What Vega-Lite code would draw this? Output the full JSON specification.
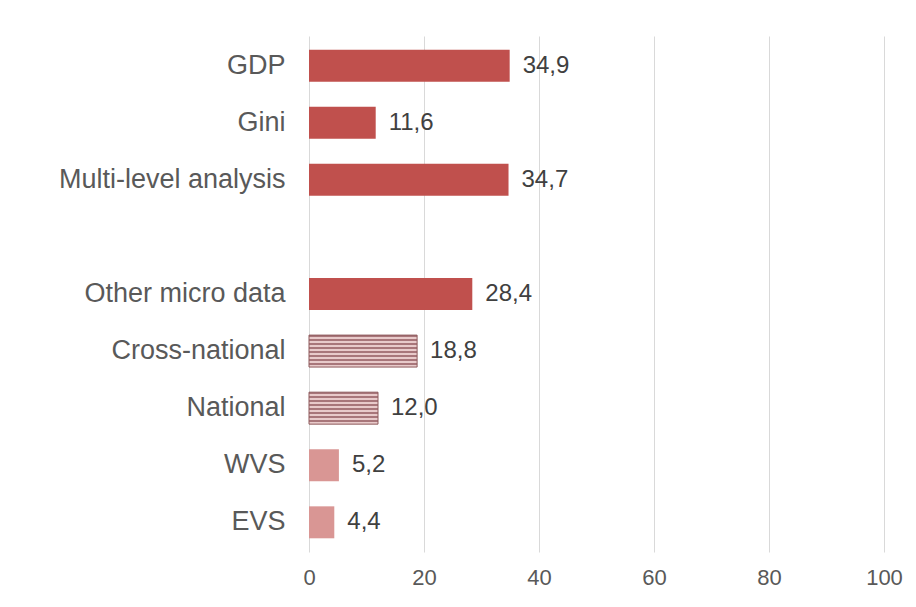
{
  "$schema": "https://vega.github.io/schema/vega-lite/v6.json",
  "width": 575,
  "height": 516,
  "autosize": "none",
  "padding": {"left": 309, "top": 36, "right": 32, "bottom": 55},
  "background": "white",
  "config": {
    "locale": {"number": {"decimal": ",", "thousands": ".", "grouping": [3], "currency": ["", " €"]}},
    "view": {"stroke": null},
    "font": "Liberation Sans"
  },
  "data": {
    "values": [
      {"cat": "GDP", "value": 34.9, "group": "solid"},
      {"cat": "Gini", "value": 11.6, "group": "solid"},
      {"cat": "Multi-level analysis", "value": 34.7, "group": "solid"},
      {"cat": "Other micro data", "value": 28.4, "group": "solid"},
      {"cat": "Cross-national", "value": 18.8, "group": "hatch"},
      {"cat": "National", "value": 12.0, "group": "hatch"},
      {"cat": "WVS", "value": 5.2, "group": "light"},
      {"cat": "EVS", "value": 4.4, "group": "light"}
    ]
  },
  "encoding": {
    "y": {
      "field": "cat",
      "type": "nominal",
      "sort": null,
      "title": null,
      "scale": {
        "domain": ["GDP", "Gini", "Multi-level analysis", " ", "Other micro data", "Cross-national", "National", "WVS", "EVS"],
        "paddingInner": 0.44,
        "paddingOuter": 0.24
      },
      "axis": {
        "domain": false,
        "ticks": false,
        "grid": false,
        "labelFontSize": 27,
        "labelColor": "#595959",
        "labelPadding": 24,
        "labelLimit": 300
      }
    },
    "x": {
      "field": "value",
      "type": "quantitative",
      "title": null,
      "scale": {"domain": [0, 100], "nice": false},
      "axis": {
        "values": [0, 20, 40, 60, 80, 100],
        "domain": false,
        "ticks": false,
        "grid": true,
        "gridColor": "#D9D9D9",
        "gridWidth": 1,
        "labelFontSize": 22,
        "labelColor": "#595959",
        "labelPadding": 15,
        "labelFlush": false
      }
    }
  },
  "layer": [
    {
      "transform": [{"filter": "datum.group == 'solid'"}],
      "mark": {"type": "bar", "fill": "#C0504D"}
    },
    {
      "transform": [{"filter": "datum.group == 'light'"}],
      "mark": {"type": "bar", "fill": "#D99694"}
    },
    {
      "transform": [{"filter": "datum.group == 'hatch'"}],
      "mark": {
        "type": "bar",
        "stroke": "#8E5A5C",
        "strokeWidth": 1,
        "fill": {
          "gradient": "linear",
          "x1": 0, "y1": 0, "x2": 0, "y2": 1,
          "stops": [
            {"offset": 0, "color": "#A8767A"}, {"offset": 0.0625, "color": "#A8767A"}, {"offset": 0.0625, "color": "#E8CACA"}, {"offset": 0.125, "color": "#E8CACA"},
            {"offset": 0.125, "color": "#A8767A"}, {"offset": 0.1875, "color": "#A8767A"}, {"offset": 0.1875, "color": "#E8CACA"}, {"offset": 0.25, "color": "#E8CACA"},
            {"offset": 0.25, "color": "#A8767A"}, {"offset": 0.3125, "color": "#A8767A"}, {"offset": 0.3125, "color": "#E8CACA"}, {"offset": 0.375, "color": "#E8CACA"},
            {"offset": 0.375, "color": "#A8767A"}, {"offset": 0.4375, "color": "#A8767A"}, {"offset": 0.4375, "color": "#E8CACA"}, {"offset": 0.5, "color": "#E8CACA"},
            {"offset": 0.5, "color": "#A8767A"}, {"offset": 0.5625, "color": "#A8767A"}, {"offset": 0.5625, "color": "#E8CACA"}, {"offset": 0.625, "color": "#E8CACA"},
            {"offset": 0.625, "color": "#A8767A"}, {"offset": 0.6875, "color": "#A8767A"}, {"offset": 0.6875, "color": "#E8CACA"}, {"offset": 0.75, "color": "#E8CACA"},
            {"offset": 0.75, "color": "#A8767A"}, {"offset": 0.8125, "color": "#A8767A"}, {"offset": 0.8125, "color": "#E8CACA"}, {"offset": 0.875, "color": "#E8CACA"},
            {"offset": 0.875, "color": "#A8767A"}, {"offset": 0.9375, "color": "#A8767A"}, {"offset": 0.9375, "color": "#E8CACA"}, {"offset": 1, "color": "#E8CACA"}
          ]
        }
      }
    },
    {
      "mark": {"type": "text", "align": "left", "baseline": "middle", "dx": 13, "fontSize": 24, "fill": "#404040"},
      "encoding": {"text": {"field": "value", "type": "quantitative", "format": ".1f"}}
    }
  ]
}
